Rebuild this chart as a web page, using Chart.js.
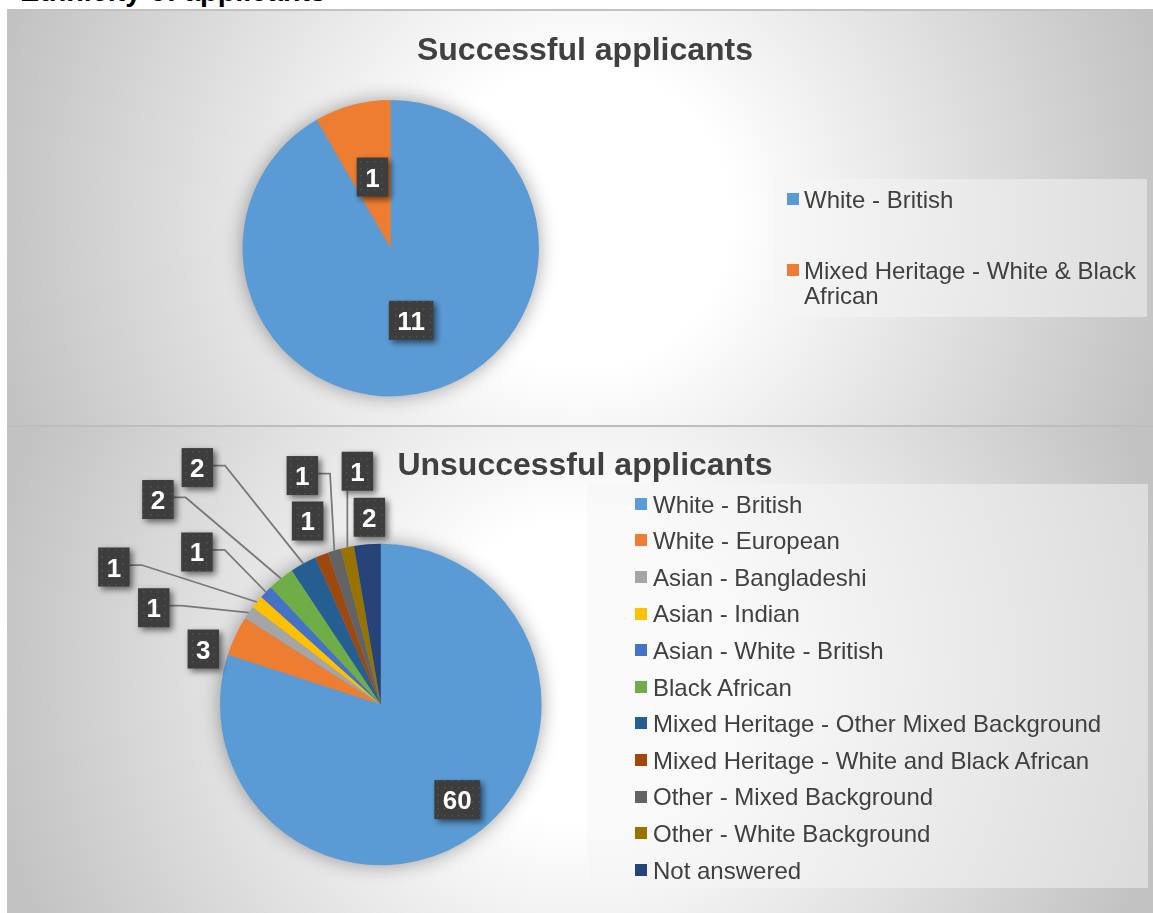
<!DOCTYPE html>
<html>
<head>
<meta charset="utf-8">
<title>Ethnicity of applicants</title>
<script src="https://cdn.jsdelivr.net/npm/chart.js@4.4.1/dist/chart.umd.min.js"></script>
<style>
  html, body { margin: 0; padding: 0; background: #fff; overflow: hidden; }
  body { width: 1153px; height: 913px; position: relative; font-family: "Liberation Sans", Arial, sans-serif; }
  .heading { position: absolute; left: 20px; top: -23px; font-size: 28.7px; line-height: 28.7px; font-weight: bold; color: #000; white-space: nowrap; }
  .panel { position: absolute; left: 7px; width: 1146px;
           background: radial-gradient(circle 600px at 50% 50%, #fff 25%, #c2c2c2 100%); }
  #panel1 { top: 9px; height: 414px; border-top: 2px solid #c2c2c2; }
  #panel2 { top: 425px; height: 488px; border-top: 2px solid #bdbdbd; }
  .panel canvas { position: absolute; left: 0; top: 0; }
  .chart-title { position: absolute; left: 285px; width: 600px; text-align: center; font-size: 32px; line-height: 32px; font-weight: bold; color: #404040; white-space: nowrap; }
  .legend { position: absolute; background: rgba(245, 245, 245, 0.5); }
  .legend .mark { position: absolute; width: 12px; height: 12px; }
  .legend .name { position: absolute; font-size: 24px; line-height: 25px; color: #404040; }
</style>
</head>
<body>
<div class="heading">Ethnicity of applicants</div>
<div class="panel" id="panel1"><canvas id="pie1" width="1146" height="414"></canvas></div>
<div class="panel" id="panel2"><canvas id="pie2" width="1146" height="486"></canvas></div>
<div class="chart-title" style="top:33px">Successful applicants</div>
<div class="chart-title" style="top:448px">Unsuccessful applicants</div>
<div class="legend" id="legend1" style="left:774px; top:179px; width:373px; height:138px"></div>
<div class="legend" id="legend2" style="left:587px; top:484px; width:561px; height:404px"></div>

<script>
// successful applicants
const successNames = ['White - British', 'Mixed Heritage - White & Black African'];
const successCounts = [11, 1];
const successColors = ['#5B9BD5', '#ED7D31'];

// unsuccessful applicants
const failNames = [
  'White - British',
  'White - European',
  'Asian - Bangladeshi',
  'Asian - Indian',
  'Asian - White - British',
  'Black African',
  'Mixed Heritage - Other Mixed Background',
  'Mixed Heritage - White and Black African',
  'Other - Mixed Background',
  'Other - White Background',
  'Not answered'
];
const failCounts = [60, 3, 1, 1, 1, 2, 2, 1, 1, 1, 2];
const failColors = ['#5B9BD5', '#ED7D31', '#A5A5A5', '#FFC000', '#4472C4', '#70AD47',
                    '#255E91', '#9E480E', '#636363', '#997300', '#264478'];

// label box offsets from the outer edge of each slice
const successSpots = [
  { dx: -18, dy: -71 },
  { dx: 20, dy: 72 }
];
const failSpots = [
  { dx: -18, dy: -35 },
  { dx: -32, dy: 13 },
  { dx: -95, dy: -5, leader: true },
  { dx: -143, dy: -35, leader: true },
  { dx: -69, dy: -40, leader: true },
  { dx: -123, dy: -79, leader: true },
  { dx: -106, dy: -96, leader: true },
  { dx: -14, dy: -34 },
  { dx: -32, dy: -75, leader: true },
  { dx: 10, dy: -76, leader: true },
  { dx: 2, dy: -27 }
];

const FONT = '"Liberation Sans", Arial, sans-serif';

// soft glow under the whole pie
const pieShadow = {
  id: 'pieShadow',
  beforeDatasetsDraw(chart) {
    const arc = chart.getDatasetMeta(0).data[0];
    const ctx = chart.ctx;
    ctx.save();
    ctx.shadowColor = 'rgba(0,0,0,0.4)';
    ctx.shadowBlur = 20;
    ctx.fillStyle = '#5B9BD5';
    ctx.beginPath();
    ctx.arc(arc.x, arc.y, arc.outerRadius - 1, 0, Math.PI * 2);
    ctx.fill();
    ctx.restore();
  }
};

function dotPattern(ctx) {
  const c = document.createElement('canvas');
  c.width = 7; c.height = 7;
  const g = c.getContext('2d');
  g.fillStyle = '#3d3d3d';
  g.fillRect(0, 0, 7, 7);
  g.fillStyle = '#535353';
  g.fillRect(3, 3, 1.5, 1.5);
  return ctx.createPattern(c, 'repeat');
}

// dark value boxes, with leader lines where the box sits away from its slice
function valueBoxes(spots) {
  return {
    id: 'valueBoxes',
    afterDatasetsDraw(chart) {
      const ctx = chart.ctx;
      const meta = chart.getDatasetMeta(0);
      const values = chart.data.datasets[0].data;
      ctx.save();
      ctx.font = 'bold 26px ' + FONT;
      const boxes = meta.data.map((arc, i) => {
        const mid = (arc.startAngle + arc.endAngle) / 2;
        const px = arc.x + Math.cos(mid) * arc.outerRadius;
        const py = arc.y + Math.sin(mid) * arc.outerRadius;
        const text = String(values[i]);
        const w = ctx.measureText(text).width + 17;
        return { text, px, py, cx: px + spots[i].dx, cy: py + spots[i].dy, w, h: 39, leader: spots[i].leader };
      });

      ctx.strokeStyle = '#787878';
      ctx.lineWidth = 1.75;
      boxes.forEach(b => {
        if (!b.leader) return;
        const x0 = b.cx - b.w / 2, x1 = b.cx + b.w / 2, y = b.cy - 2;
        ctx.beginPath();
        if (b.px > x1) { ctx.moveTo(x1, y); ctx.lineTo(x1 + 12, y); }
        else if (b.px < x0) { ctx.moveTo(x0, y); ctx.lineTo(x0 - 12, y); }
        else ctx.moveTo(b.px, b.cy + b.h / 2);
        ctx.lineTo(b.px, b.py);
        ctx.stroke();
      });

      const pattern = dotPattern(ctx);
      boxes.forEach(b => {
        ctx.save();
        ctx.shadowColor = 'rgba(0,0,0,0.55)';
        ctx.shadowBlur = 6;
        ctx.shadowOffsetX = 3;
        ctx.shadowOffsetY = 3;
        ctx.fillStyle = pattern;
        ctx.fillRect(b.cx - b.w / 2, b.cy - b.h / 2, b.w, b.h);
        ctx.restore();
        ctx.fillStyle = '#fff';
        ctx.textAlign = 'center';
        ctx.textBaseline = 'alphabetic';
        ctx.fillText(b.text, b.cx, b.cy + 9.5);
      });
      ctx.restore();
    }
  };
}

function makePie(id, names, counts, colors, padding, spots) {
  return new Chart(document.getElementById(id), {
    type: 'pie',
    data: {
      labels: names,
      datasets: [{ data: counts, backgroundColor: colors, borderWidth: 0 }]
    },
    options: {
      responsive: false,
      animation: false,
      layout: { padding },
      plugins: { legend: { display: false }, tooltip: { enabled: false } }
    },
    plugins: [pieShadow, valueBoxes(spots)]
  });
}

makePie('pie1', successNames, successCounts, successColors,
        { left: 235.5, top: 89, right: 614, bottom: 28.6 }, successSpots);
makePie('pie2', failNames, failCounts, failColors,
        { left: 213, top: 116.7, right: 611.4, bottom: 47.7 }, failSpots);

function buildLegend(id, names, colors, o) {
  const box = document.getElementById(id);
  names.forEach((name, i) => {
    const base = o.first + i * o.step;
    const mark = document.createElement('span');
    mark.className = 'mark';
    mark.style.left = o.markX + 'px';
    mark.style.top = (base - 14.5) + 'px';
    mark.style.background = colors[i];
    const txt = document.createElement('div');
    txt.className = 'name';
    txt.style.left = o.textX + 'px';
    txt.style.top = (base - 20.8) + 'px';
    txt.style.width = o.textW + 'px';
    txt.textContent = name;
    box.appendChild(mark);
    box.appendChild(txt);
  });
}

buildLegend('legend1', successNames, successColors, { first: 28.7, step: 70.6, markX: 13, textX: 30, textW: 338 });
buildLegend('legend2', failNames, failColors, { first: 28.3, step: 36.6, markX: 48, textX: 66, textW: 490 });
</script>
</body>
</html>
